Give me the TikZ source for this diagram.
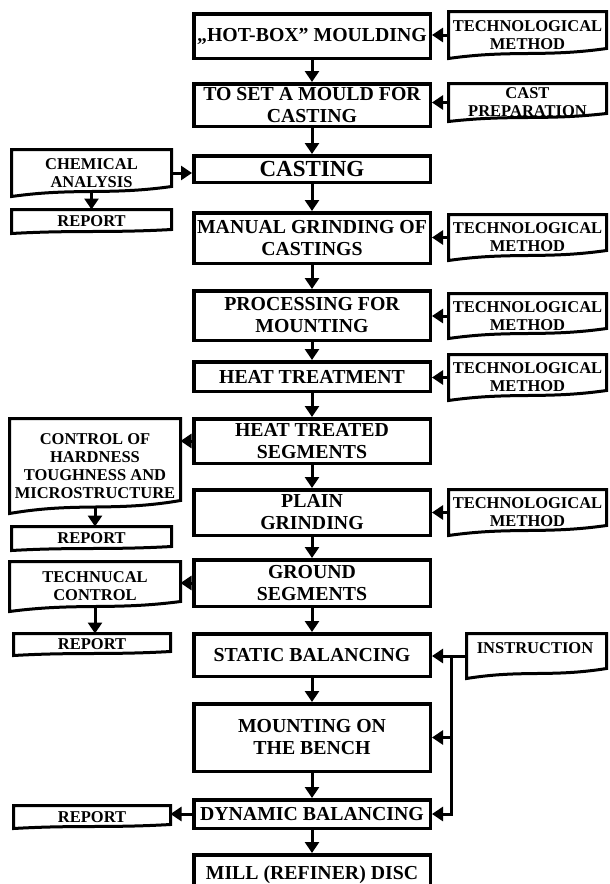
\documentclass[tikz,border=0pt]{standalone}
\usepackage{fontspec}
\setmainfont{Liberation Serif}
\usetikzlibrary{arrows.meta,calc}
\newcommand\docoutline[2]{%
  \draw[docline] (#1.south west) -- (#1.north west) -- (#1.north east) -- ([yshift=#2]#1.south east)
    .. controls ($(#1.south west)!0.6!(#1.south east)+(0pt,0.1*#2)$) and ($(#1.south west)!0.4!(#1.south east)+(0pt,0.9*#2)$) .. (#1.south west) -- cycle;}
\begin{document}
\begin{tikzpicture}[x=1pt,y=-1pt,
  mainbox/.style={draw,line width=3.5pt,line join=miter,minimum width=236.5pt,inner sep=0pt,align=center,font=\bfseries\fontsize{19.8}{22}\selectfont},
  docnode/.style={inner sep=0pt,outer sep=0pt,align=center,font=\bfseries\fontsize{16.5}{18}\selectfont},
  docline/.style={line width=3pt,line join=miter},
  arr/.style={line width=3pt,line join=miter,-{Triangle[length=11pt,width=14pt]}},
]
\useasboundingbox (0,0) rectangle (610,884);
\clip (0,0) rectangle (610,884);
\fill[white] (0,0) rectangle (610,884);

% main column
\node[mainbox,minimum height=44.5pt] (hot) at (312,36) {„HOT-BOX” MOULDING};
\node[mainbox,minimum height=42.5pt] (set) at (312,105) {TO SET A MOULD FOR\\CASTING};
\node[mainbox,minimum height=26.5pt,font=\bfseries\fontsize{23}{24}\selectfont] (cast) at (312,169) {CASTING};
\node[mainbox,minimum height=50.5pt] (man) at (312,238) {MANUAL GRINDING OF\\CASTINGS};
\node[mainbox,minimum height=49.5pt] (proc) at (312,315.5) {PROCESSING FOR\\MOUNTING};
\node[mainbox,minimum height=29.5pt] (heat) at (312,376.5) {HEAT TREATMENT};
\node[mainbox,minimum height=44.5pt] (hts) at (312,441) {HEAT TREATED\\SEGMENTS};
\node[mainbox,minimum height=45.5pt] (plain) at (312,512.5) {PLAIN\\GRINDING};
\node[mainbox,minimum height=46.5pt] (ground) at (312,583) {GROUND\\SEGMENTS};
\node[mainbox,minimum height=42.5pt] (static) at (312,655) {STATIC BALANCING};
\node[mainbox,minimum height=67.5pt] (mount) at (312,737.5) {MOUNTING ON\\THE BENCH};
\node[mainbox,minimum height=28.5pt] (dyn) at (312,814) {DYNAMIC BALANCING};
\node[mainbox,minimum height=40.5pt] (mill) at (312,875) {MILL (REFINER) DISC};

% right documents
\node[docnode,minimum width=158pt,minimum height=47pt] (tm1) at (527.5,35) {TECHNOLOGICAL\\METHOD};
\node[docnode,minimum width=158pt,minimum height=38pt] (castp) at (527.5,102.5) {CAST\\PREPARATION};
\node[docnode,minimum width=158pt,minimum height=46pt] (tm2) at (527.5,237.5) {TECHNOLOGICAL\\METHOD};
\node[docnode,minimum width=158pt,minimum height=45pt] (tm3) at (527.5,316) {TECHNOLOGICAL\\METHOD};
\node[docnode,minimum width=158pt,minimum height=46pt] (tm4) at (527.5,377.5) {TECHNOLOGICAL\\METHOD};
\node[docnode,minimum width=158pt,minimum height=46pt] (tm5) at (527.5,512.5) {TECHNOLOGICAL\\METHOD};
\node[docnode,minimum width=140pt,minimum height=45pt] (instr) at (536.5,656) {};
\node[docnode] (instrt) at (535,648) {INSTRUCTION};

% left documents
\node[docnode,minimum width=160pt,minimum height=47pt] (chem) at (91.5,173) {CHEMICAL\\ANALYSIS};
\node[docnode,minimum width=160pt,minimum height=24pt] (rep1) at (91.5,221.5) {REPORT};
\node[docnode,minimum width=171pt,minimum height=95pt] (ctrl) at (95,466) {CONTROL OF\\HARDNESS\\TOUGHNESS AND\\MICROSTRUCTURE};
\node[docnode,minimum width=160pt,minimum height=24pt] (rep2) at (91.5,538.5) {REPORT};
\node[docnode,minimum width=171pt,minimum height=50pt] (tech) at (95,586.5) {TECHNUCAL\\CONTROL};
\node[docnode,minimum width=157pt,minimum height=22pt] (rep3) at (92,644.5) {REPORT};
\node[docnode,minimum width=157pt,minimum height=23pt] (rep4) at (92,817) {REPORT};

\docoutline{tm1}{10pt}
\docoutline{castp}{8pt}
\docoutline{tm2}{10pt}
\docoutline{tm3}{10pt}
\docoutline{tm4}{10pt}
\docoutline{tm5}{10pt}
\docoutline{instr}{10pt}
\docoutline{chem}{10pt}
\docoutline{rep1}{4pt}
\docoutline{ctrl}{13pt}
\docoutline{rep2}{4pt}
\docoutline{tech}{10pt}
\docoutline{rep3}{4pt}
\docoutline{rep4}{4pt}

% main flow
\foreach \a/\b in {hot/set,set/cast,cast/man,man/proc,proc/heat,heat/hts,hts/plain,plain/ground,ground/static,static/mount,mount/dyn,dyn/mill}
  \draw[arr] (\a.south) -- (\b.north);

% inputs from right
\foreach \d/\m in {tm1/hot,castp/set,tm2/man,tm3/proc,tm4/heat,tm5/plain}
  \draw[arr] (\d.west) -- (\d.west -| \m.east);

% left side
\draw[arr] (chem.east) -- (chem.east -| cast.west);
\draw[arr] ([yshift=5pt]chem.south) -- (chem.south |- rep1.north);
\draw[arr] (hts.west) -- (hts.west -| ctrl.east);
\draw[arr] ([yshift=6pt]ctrl.south) -- (ctrl.south |- rep2.north);
\draw[arr] (ground.west) -- (ground.west -| tech.east);
\draw[arr] ([yshift=5pt]tech.south) -- (tech.south |- rep3.north);
\draw[arr] (dyn.west) -- (dyn.west -| rep4.east);

% instruction
\coordinate (jn) at ($(instr.west)+(-15pt,0pt)$);
\draw[arr] (instr.west) -- (instr.west -| static.east);
\draw[arr] (jn) -- (jn |- dyn.east) -- (dyn.east);
\draw[arr] (jn |- mount.east) -- (mount.east);
\end{tikzpicture}
\end{document}
